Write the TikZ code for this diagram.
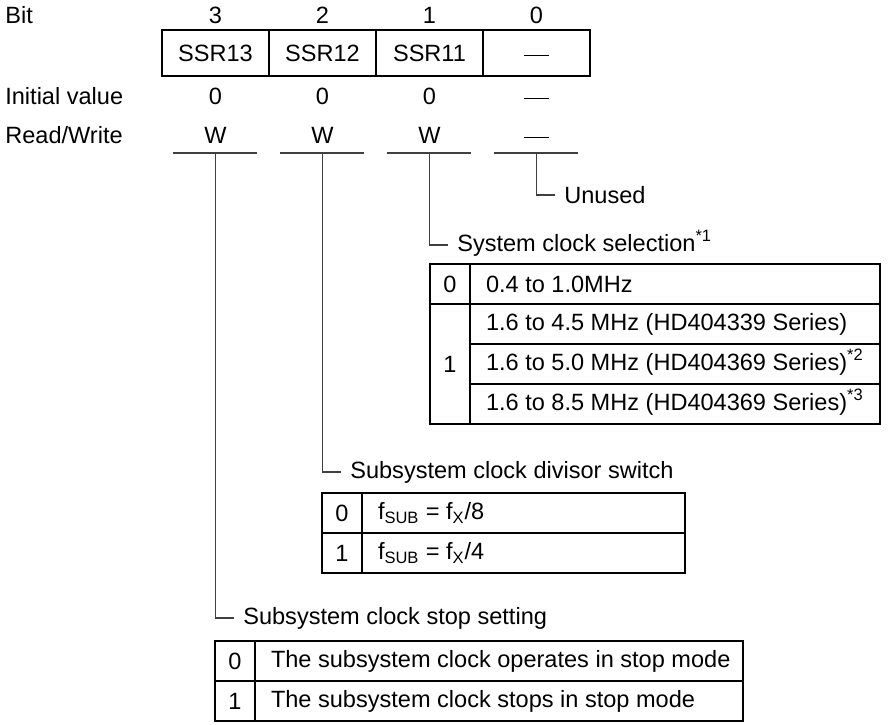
\documentclass[tikz,border=0pt]{standalone}
\usepackage{fontspec}
\setmainfont{Liberation Sans}
\usetikzlibrary{positioning}
\newcommand{\regbit}[3]{\node[draw, line width=0.6pt,
  minimum width=2.14cm, minimum height=0.92cm] (#1) at (#2) {#3};}
\newcommand{\valcell}[4]{\node[draw, line width=0.6pt, inner sep=0pt, outer sep=0pt,
  minimum width=0.8cm, minimum height=#3, anchor=north west] (#1) at #2 {#4};}
\newcommand{\desccell}[4]{\node[draw, line width=0.6pt, inner xsep=0.32cm,
  inner ysep=0pt, outer sep=0pt, minimum height=0.8cm,
  anchor=north west] (#1) at #2 {\makebox[#3][l]{#4}};}
\newcommand{\nodash}{\vphantom{0}\rule[0.22em]{1.05em}{0.06em}}
\newcommand{\fnmark}[1]{\smash{\textsuperscript{*#1}}}

\begin{document}
\begin{tikzpicture}[
  font=\fontsize{13.4}{16}\selectfont,
  lbl/.style={anchor=west, inner sep=0pt},
  hdr/.style={anchor=west, inner xsep=0.19cm, inner ysep=0pt},
  lead/.style={draw=black!75, line width=0.6pt},
]
\useasboundingbox (0,0) rectangle (17.78,-14.48);

%% ── Row labels ───────────────────────────────────────────────────────────
\node[lbl] (bitL)  at (0.1,-0.3)  {Bit};
\node[lbl] (initL) at (0.1,-1.92) {Initial value};
\node[lbl] (rwL)   at (0.1,-2.7)  {Read/Write};

%% ── Register ─────────────────────────────────────────────────────────────
\regbit{R3}{4.31,-1.06}{SSR13}
\regbit{R2}{6.45,-1.06}{SSR12}
\regbit{R1}{8.59,-1.06}{SSR11}
\regbit{R0}{10.73,-1.06}{\nodash}

\node (n3) at (4.31,-0.3) {3};
\node (n2) at (6.45,-0.3) {2};
\node (n1) at (8.59,-0.3) {1};
\node (n0) at (10.73,-0.3) {0};

\node (i3) at (4.31,-1.92) {0};
\node (i2) at (6.45,-1.92) {0};
\node (i1) at (8.59,-1.92) {0};
\node (i0) at (10.73,-1.92) {\nodash};

\node (w3) at (4.31,-2.7) {W};
\node (w2) at (6.45,-2.7) {W};
\node (w1) at (8.59,-2.7) {W};
\node (w0) at (10.73,-2.7) {\nodash};

%% ── Underlines ───────────────────────────────────────────────────────────
\coordinate (u3) at (4.31,-3.06);
\coordinate (u2) at (6.45,-3.06);
\coordinate (u1) at (8.59,-3.06);
\coordinate (u0) at (10.73,-3.06);
\draw[lead] ([xshift=-0.86cm]u3) -- ([xshift=0.82cm]u3);
\draw[lead] ([xshift=-0.86cm]u2) -- ([xshift=0.82cm]u2);
\draw[lead] ([xshift=-0.86cm]u1) -- ([xshift=0.82cm]u1);
\draw[lead] ([xshift=-0.86cm]u0) -- ([xshift=0.82cm]u0);

%% ── Bit 0: unused ────────────────────────────────────────────────────────
\node[hdr] (unused) at (11.09,-3.9) {Unused};
\draw[lead] (u0) |- (unused.west);

%% ── Bit 1: system clock selection ────────────────────────────────────────
\node[hdr] (sysL) at (8.95,-4.9) {System clock selection\fnmark{1}};
\draw[lead] (u1) |- (sysL.west);

\valcell{S0}{(8.6,-5.28)}{0.8cm}{0}
\valcell{S1}{(S0.south west)}{2.4cm}{1}
\desccell{SD0}{(S0.north east)}{7.56cm}{0.4 to 1.0MHz}
\desccell{SD1}{(S1.north east)}{7.56cm}{1.6 to 4.5 MHz (HD404339 Series)}
\desccell{SD2}{(SD1.south west)}{7.56cm}{1.6 to 5.0 MHz (HD404369 Series)\fnmark{2}}
\desccell{SD3}{(SD2.south west)}{7.56cm}{1.6 to 8.5 MHz (HD404369 Series)\fnmark{3}}

%% ── Bit 2: subsystem clock divisor ───────────────────────────────────────
\node[hdr] (divL) at (6.81,-9.44) {Subsystem clock divisor switch};
\draw[lead] (u2) |- (divL.west);

\valcell{V0}{(6.44,-9.86)}{0.8cm}{0}
\valcell{V1}{(V0.south west)}{0.8cm}{1}
\desccell{VD0}{(V0.north east)}{5.82cm}{f\textsubscript{SUB} = f\textsubscript{X}/8}
\desccell{VD1}{(V1.north east)}{5.82cm}{f\textsubscript{SUB} = f\textsubscript{X}/4}

%% ── Bit 3: subsystem clock stop ──────────────────────────────────────────
\node[hdr] (stopL) at (4.67,-12.36) {Subsystem clock stop setting};
\draw[lead] (u3) |- (stopL.west);

\valcell{T0}{(4.3,-12.82)}{0.8cm}{0}
\valcell{T1}{(T0.south west)}{0.8cm}{1}
\desccell{TD0}{(T0.north east)}{9.12cm}{The subsystem clock operates in stop mode}
\desccell{TD1}{(T1.north east)}{9.12cm}{The subsystem clock stops in stop mode}

\end{tikzpicture}
\end{document}
